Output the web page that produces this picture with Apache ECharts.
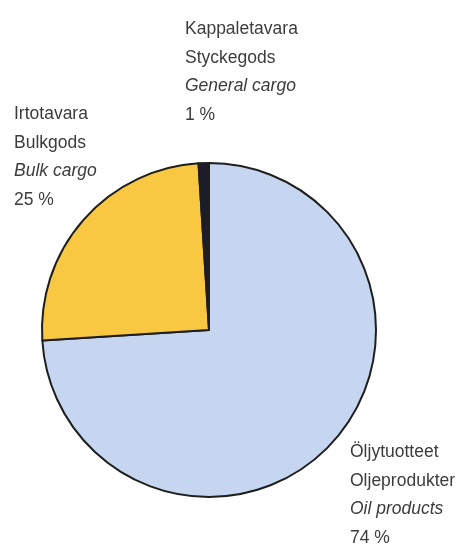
<!DOCTYPE html>
<html>
<head>
<meta charset="utf-8">
<script src="https://cdn.jsdelivr.net/npm/echarts@6/dist/echarts.min.js"></script>
<style>
html,body{margin:0;padding:0;background:#fff;}
#c{width:458px;height:549px;}
</style>
</head>
<body>
<div id="c"></div>
<script>
var namesFi = ['Öljytuotteet', 'Irtotavara', 'Kappaletavara'];
var namesSv = ['Oljeprodukter', 'Bulkgods', 'Styckegods'];
var namesEn = ['Oil products', 'Bulk cargo', 'General cargo'];
var values = [74, 25, 1];
var colors = ['#c6d6f0', '#f8c843', '#1c1c2a'];
var labelPos = [[350, 438], [14, 100], [185, 15]];

var chart = echarts.init(document.getElementById('c'), null, {renderer: 'canvas'});
var data = values.map(function (v, i) {
  return {value: v, name: namesEn[i], itemStyle: {color: colors[i]}};
});
var fam = '"Liberation Sans", Arial, sans-serif';
chart.setOption({
  animation: false,
  backgroundColor: '#ffffff',
  series: [{
    type: 'pie',
    center: [209, 330],
    radius: 167,
    startAngle: 90,
    clockwise: true,
    avoidLabelOverlap: false,
    data: data,
    itemStyle: {borderColor: '#1e1e1e', borderWidth: 2},
    labelLine: {show: false},
    label: {
      show: true,
      position: 'outside',
      formatter: function (p) {
        var i = p.dataIndex;
        return '{a|' + namesFi[i] + '}\n{a|' + namesSv[i] + '}\n{i|' + namesEn[i] + '}\n{a|' + values[i] + ' %}';
      },
      rich: {
        a: {fontFamily: fam, fontSize: 17.5, lineHeight: 28.5, color: '#3c3c3c'},
        i: {fontFamily: fam, fontSize: 17.5, lineHeight: 28.5, color: '#3c3c3c', fontStyle: 'italic'}
      }
    },
    labelLayout: function (p) {
      var pos = labelPos[p.dataIndex];
      return {x: pos[0], y: pos[1], align: 'left', verticalAlign: 'top'};
    },
    emphasis: {disabled: true}
  }]
});
</script>
</body>
</html>
